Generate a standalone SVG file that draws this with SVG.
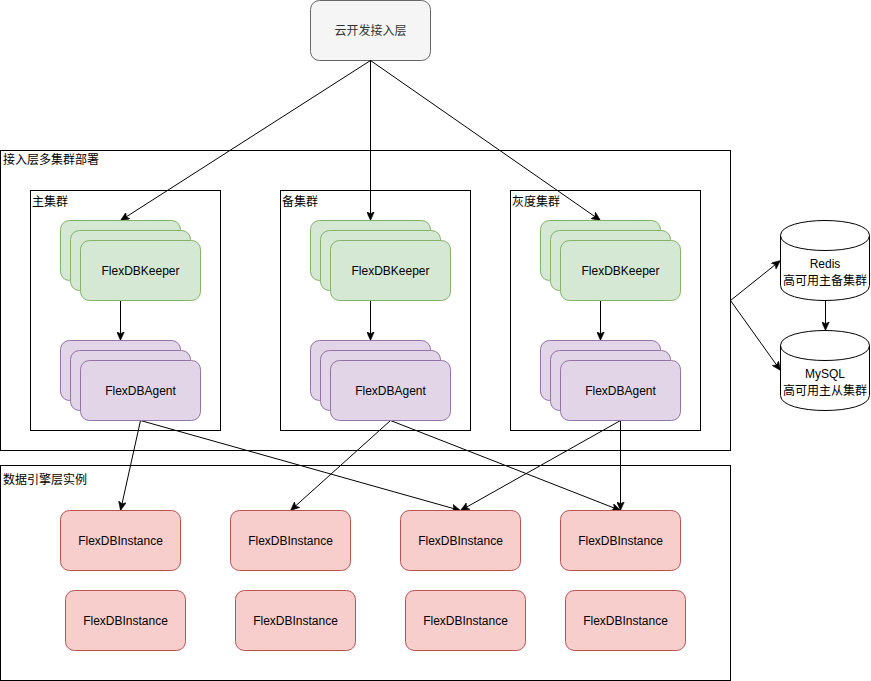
<svg xmlns="http://www.w3.org/2000/svg" width="871" height="681" viewBox="0 0 871 681">
<defs>
<marker id="arr" viewBox="0 0 10 8" refX="9" refY="4" markerWidth="10" markerHeight="8" markerUnits="userSpaceOnUse" orient="auto">
<path d="M0,0 L9,4 L0,8 L2.2,4 z" fill="#000" stroke="#000" stroke-width="0.5"/>
</marker>
</defs>
<style>
text{font-family:"Liberation Sans","Noto Sans CJK SC",sans-serif;font-size:12px;fill:#000}
.c{text-anchor:middle}
.box{fill:#fff;stroke:#000;stroke-width:1}
.g{fill:#d5e8d4;stroke:#82b366}
.p{fill:#e1d5e7;stroke:#9673a6}
.r{fill:#f8cecc;stroke:#b85450}
.e{fill:none;stroke:#000;stroke-width:1;marker-end:url(#arr)}
</style>
<rect width="871" height="681" fill="#fff"/>

<g id="containers">
<rect class="box" x="0.5" y="150.5" width="730" height="300"/>
<text x="3" y="164">接入层多集群部署</text>
<rect class="box" x="0.5" y="465.5" width="730" height="215"/>
<text x="3" y="484">数据引擎层实例</text>
</g>

<g id="top">
<rect x="310.5" y="0.5" width="120" height="60" rx="9" fill="#f5f5f5" stroke="#666"/>
<text class="c" x="370.5" y="35" style="fill:#333">云开发接入层</text>
</g>

<g id="cluster-main">
<rect class="box" x="30.5" y="190.5" width="190" height="240"/>
<text x="32" y="206">主集群</text>
</g>
<g id="cluster-standby">
<rect class="box" x="280.5" y="190.5" width="190" height="240"/>
<text x="282" y="206">备集群</text>
</g>
<g id="cluster-gray">
<rect class="box" x="510.5" y="190.5" width="190" height="240"/>
<text x="512" y="206">灰度集群</text>
</g>

<g id="connectors">
<path class="e" d="M370.5,60.5 L120.5,220.5"/>
<path class="e" d="M370.5,60.5 L370.5,220.5"/>
<path class="e" d="M370.5,60.5 L600.5,220.5"/>
<path class="e" d="M120.5,300 L120.5,340.5"/>
<path class="e" d="M370.5,300 L370.5,340.5"/>
<path class="e" d="M600.5,300 L600.5,340.5"/>
<path class="e" d="M140.5,420.5 L120.5,510.5"/>
<path class="e" d="M140.5,420.5 L460.5,510.5"/>
<path class="e" d="M390.5,420.5 L290.5,510.5"/>
<path class="e" d="M390.5,420.5 L620.5,510.5"/>
<path class="e" d="M620.5,420.5 L460.5,510.5"/>
<path class="e" d="M620.5,420.5 L620.5,510.5"/>
<path class="e" d="M730.5,300.5 L780.5,260.5"/>
<path class="e" d="M730.5,300.5 L780.5,370.5"/>
<path class="e" d="M825.5,300.5 L825.5,330.5"/>
</g>

<g id="keeper-main">
<rect class="g" x="60.5" y="220.5" width="120" height="60" rx="9"/>
<rect class="g" x="70.5" y="230.5" width="120" height="60" rx="9"/>
<rect class="g" x="80.5" y="240.5" width="120" height="60" rx="9"/>
<text class="c" x="140.5" y="275">FlexDBKeeper</text>
</g>
<g id="keeper-standby">
<rect class="g" x="310.5" y="220.5" width="120" height="60" rx="9"/>
<rect class="g" x="320.5" y="230.5" width="120" height="60" rx="9"/>
<rect class="g" x="330.5" y="240.5" width="120" height="60" rx="9"/>
<text class="c" x="390.5" y="275">FlexDBKeeper</text>
</g>
<g id="keeper-gray">
<rect class="g" x="540.5" y="220.5" width="120" height="60" rx="9"/>
<rect class="g" x="550.5" y="230.5" width="120" height="60" rx="9"/>
<rect class="g" x="560.5" y="240.5" width="120" height="60" rx="9"/>
<text class="c" x="620.5" y="275">FlexDBKeeper</text>
</g>

<g id="agent-main">
<rect class="p" x="60.5" y="340.5" width="120" height="60" rx="9"/>
<rect class="p" x="70.5" y="350.5" width="120" height="60" rx="9"/>
<rect class="p" x="80.5" y="360.5" width="120" height="60" rx="9"/>
<text class="c" x="140.5" y="395">FlexDBAgent</text>
</g>
<g id="agent-standby">
<rect class="p" x="310.5" y="340.5" width="120" height="60" rx="9"/>
<rect class="p" x="320.5" y="350.5" width="120" height="60" rx="9"/>
<rect class="p" x="330.5" y="360.5" width="120" height="60" rx="9"/>
<text class="c" x="390.5" y="395">FlexDBAgent</text>
</g>
<g id="agent-gray">
<rect class="p" x="540.5" y="340.5" width="120" height="60" rx="9"/>
<rect class="p" x="550.5" y="350.5" width="120" height="60" rx="9"/>
<rect class="p" x="560.5" y="360.5" width="120" height="60" rx="9"/>
<text class="c" x="620.5" y="395">FlexDBAgent</text>
</g>

<g id="inst-1"><rect class="r" x="60.5" y="510.5" width="120" height="60" rx="9"/><text class="c" x="120.5" y="545">FlexDBInstance</text></g>
<g id="inst-2"><rect class="r" x="230.5" y="510.5" width="120" height="60" rx="9"/><text class="c" x="290.5" y="545">FlexDBInstance</text></g>
<g id="inst-3"><rect class="r" x="400.5" y="510.5" width="120" height="60" rx="9"/><text class="c" x="460.5" y="545">FlexDBInstance</text></g>
<g id="inst-4"><rect class="r" x="560.5" y="510.5" width="120" height="60" rx="9"/><text class="c" x="620.5" y="545">FlexDBInstance</text></g>
<g id="inst-5"><rect class="r" x="65.5" y="590.5" width="120" height="60" rx="9"/><text class="c" x="125.5" y="625">FlexDBInstance</text></g>
<g id="inst-6"><rect class="r" x="235.5" y="590.5" width="120" height="60" rx="9"/><text class="c" x="295.5" y="625">FlexDBInstance</text></g>
<g id="inst-7"><rect class="r" x="405.5" y="590.5" width="120" height="60" rx="9"/><text class="c" x="465.5" y="625">FlexDBInstance</text></g>
<g id="inst-8"><rect class="r" x="565.5" y="590.5" width="120" height="60" rx="9"/><text class="c" x="625.5" y="625">FlexDBInstance</text></g>

<g id="redis">
<path d="M780.5,235.5 C780.5,215.5 869.5,215.5 869.5,235.5 L869.5,285.5 C869.5,305.5 780.5,305.5 780.5,285.5 Z" fill="#fff" stroke="#000"/>
<path d="M780.5,235.5 C780.5,255.5 869.5,255.5 869.5,235.5" fill="none" stroke="#000"/>
<text class="c" x="825" y="268">Redis</text>
<text class="c" x="825" y="285">高可用主备集群</text>
</g>
<g id="mysql">
<path d="M780.5,345.5 C780.5,325.5 869.5,325.5 869.5,345.5 L869.5,395.5 C869.5,415.5 780.5,415.5 780.5,395.5 Z" fill="#fff" stroke="#000"/>
<path d="M780.5,345.5 C780.5,365.5 869.5,365.5 869.5,345.5" fill="none" stroke="#000"/>
<text class="c" x="825" y="378">MySQL</text>
<text class="c" x="825" y="395">高可用主从集群</text>
</g>
</svg>
